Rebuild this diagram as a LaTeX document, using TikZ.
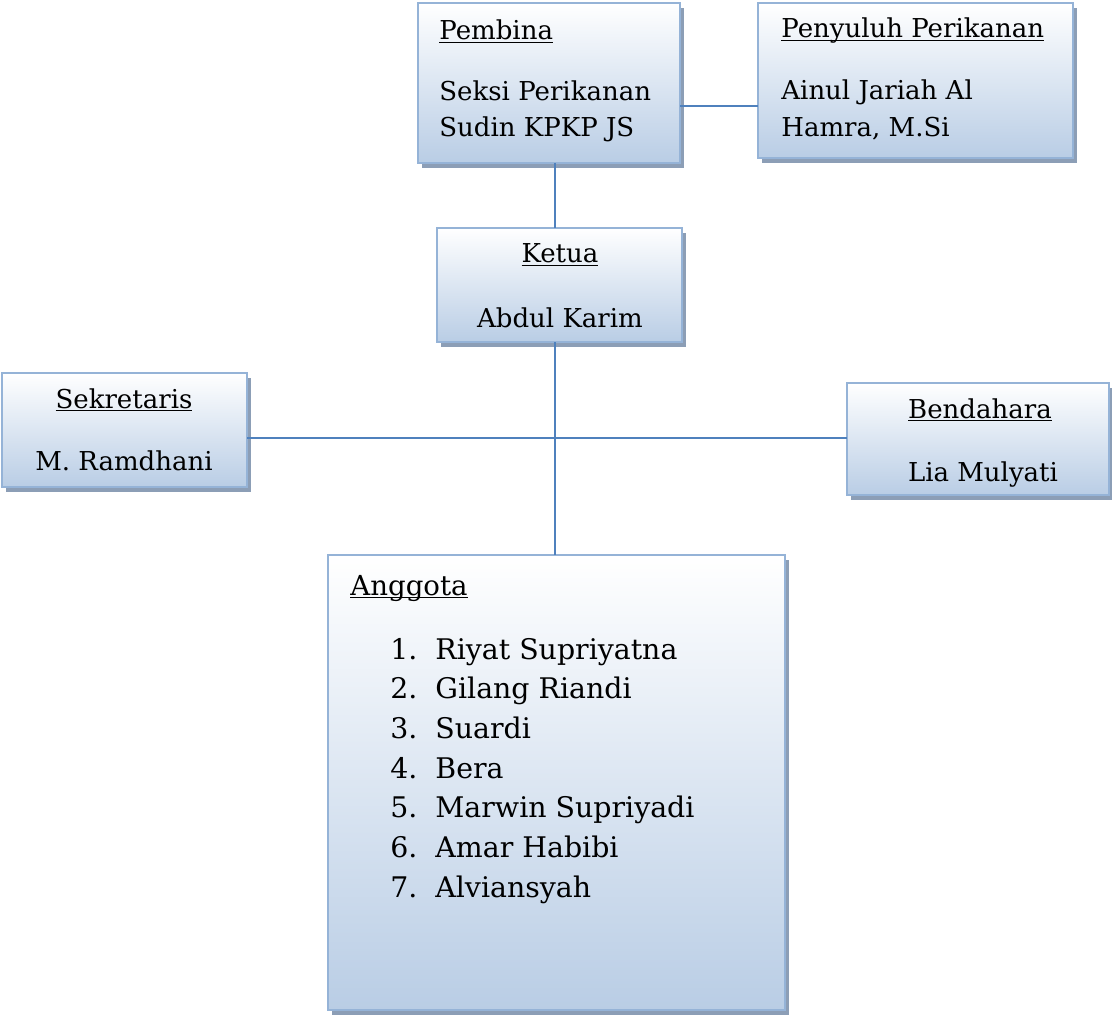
\documentclass[tikz,border=0pt]{standalone}
\usepackage{fontspec}
\setmainfont{DejaVu Serif}
\usetikzlibrary{shadows}
\definecolor{boxblue}{RGB}{185,205,229}
\definecolor{boxline}{RGB}{149,179,215}
\definecolor{boxshadow}{RGB}{140,158,182}
\definecolor{linkblue}{RGB}{79,129,189}
\newcommand{\wordul}[1]{\setbox0\hbox{#1}\rlap{\rule[-1.6pt]{\wd0}{0.8pt}}\box0}
\begin{document}
\begin{tikzpicture}[
            x=0.5pt, y=-0.5pt,
            orgbox/.style={rectangle, draw=boxline, line width=1.2pt, top color=white, bottom color=boxblue,
                anchor=north west, inner sep=0pt, outer sep=0pt,
                general shadow={fill=boxshadow, shadow xshift=2.2pt, shadow yshift=-2.4pt}},
            lbl/.style={inner sep=0pt, font=\fontsize{13}{15}\selectfont},
            biglbl/.style={lbl, font=\fontsize{14.2}{17}\selectfont},
            link/.style={draw=linkblue, line width=1pt}
        ]
        \useasboundingbox (0,0) rectangle (1112,1016);

        % Pembina and Penyuluh
        \node[orgbox, minimum width=131pt, minimum height=80pt] (pembina) at (418,3) {};
        \node[lbl, anchor=base west] (pembinaT) at (439,40) {\wordul{Pembina}};
        \node[lbl, anchor=base west] (pembinaA) at (439,101) {Seksi Perikanan};
        \node[lbl, anchor=base west] (pembinaB) at (439,137) {Sudin KPKP JS};

        \node[orgbox, minimum width=157.5pt, minimum height=77.5pt] (penyuluh) at (758,3) {};
        \node[lbl, anchor=base west] (penyuluhT) at (781,38) {\wordul{Penyuluh Perikanan}};
        \node[lbl, anchor=base west] (penyuluhA) at (781,100) {Ainul Jariah Al};
        \node[lbl, anchor=base west] (penyuluhB) at (781,137) {Hamra, M.Si};

        % Ketua
        \node[orgbox, minimum width=122.5pt, minimum height=57pt] (ketua) at (437,228) {};
        \node[lbl, anchor=base] (ketuaT) at (560,263) {\wordul{Ketua}};
        \node[lbl, anchor=base] (ketuaA) at (560,327) {Abdul Karim};

        % Sekretaris and Bendahara
        \node[orgbox, minimum width=122.5pt, minimum height=57pt] (sekretaris) at (2,373) {};
        \node[lbl, anchor=base] (sekretarisT) at (124,408) {\wordul{Sekretaris}};
        \node[lbl, anchor=base] (sekretarisA) at (124,470) {M. Ramdhani};

        \node[orgbox, minimum width=131pt, minimum height=56pt] (bendahara) at (847,383) {};
        \node[lbl, anchor=base] (bendaharaT) at (980,418) {\wordul{Bendahara}};
        \node[lbl, anchor=base] (bendaharaA) at (983,481) {Lia Mulyati};

        % Anggota
        \node[orgbox, minimum width=228.5pt, minimum height=227.5pt] (anggota) at (328,555) {};
        \node[lbl, font=\fontsize{13.8}{16}\selectfont, anchor=base west] (anggotaT) at (350,595) {\wordul{Anggota}};
        \foreach \member [count=\i] in {Riyat Supriyatna, Gilang Riandi, Suardi, Bera,
                Marwin Supriyadi, Amar Habibi, Alviansyah} {
            \node[biglbl, anchor=base west] (num\i) at (390,{619.3+39.7*\i}) {\i.};
            \node[biglbl, anchor=base west] (member\i) at (435,{619.3+39.7*\i}) {\member};
        }

        % Connectors
        \coordinate (staffrow) at (0,106);
        \coordinate (hub) at (555,438);
        \draw[link] (pembina.east |- staffrow) -- (penyuluh.west |- staffrow);
        \draw[link] (pembina.south -| hub) -- (ketua.north -| hub);
        \draw[link] (ketua.south -| hub) -- (anggota.north -| hub);
        \draw[link] (sekretaris.east |- hub) -- (bendahara.west |- hub);
        \end{tikzpicture}
\end{document}
